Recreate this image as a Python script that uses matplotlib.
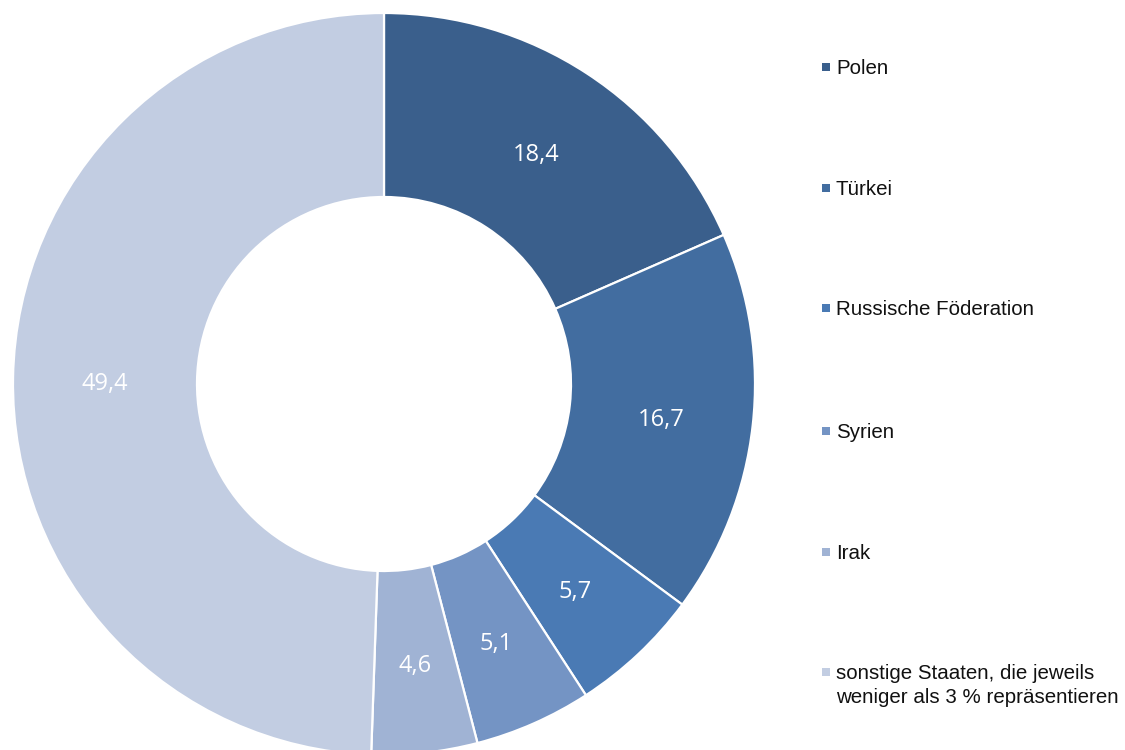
import matplotlib
matplotlib.use("Agg")
import matplotlib.pyplot as plt
import matplotlib.transforms as mtransforms
import numpy as np
from matplotlib.patches import Rectangle

labels = ["Polen", "Türkei", "Russische Föderation", "Syrien", "Irak",
          "sonstige Staaten, die jeweils\nweniger als 3 % repräsentieren"]
values = [18.4, 16.7, 5.7, 5.1, 4.6, 49.4]
value_text = ["18,4", "16,7", "5,7", "5,1", "4,6", "49,4"]
colors = ["#3A5F8C", "#426DA0", "#4A7AB4", "#7494C4", "#A0B3D4", "#C2CDE2"]

W, H = 1125, 750
fig = plt.figure(figsize=(W / 100, H / 100), dpi=100)

cx, cy, R, r = 384, 384, 371, 187
ax = fig.add_axes([(cx - R) / W, (H - cy - R) / H, 2 * R / W, 2 * R / H])

width = (R - r) / R
wedges, _ = ax.pie(values, colors=colors, startangle=90, counterclock=False,
                   radius=1, wedgeprops=dict(width=width, edgecolor="white", linewidth=1.6))
ax.set_xlim(-1, 1)
ax.set_ylim(-1, 1)
ax.set_aspect("equal")
ax.axis("off")

shift = mtransforms.ScaledTranslation(0, -4.5 / 100, fig.dpi_scale_trans)
mid_r = 1 - width / 2
for w, t in zip(wedges, value_text):
    ang = np.deg2rad((w.theta1 + w.theta2) / 2)
    ax.text(mid_r * np.cos(ang), mid_r * np.sin(ang), t, ha="center", va="center",
            color="white", fontsize=17, family=["Open Sans", "DejaVu Sans"],
            transform=ax.transData + shift)

# legend
ys = [67, 188, 308, 431, 552, 672]
for lab, col, y in zip(labels, colors, ys):
    fig.patches.append(Rectangle((822 / W, (H - y - 4) / H), 8 / W, 8 / H,
                                 transform=fig.transFigure, facecolor=col, edgecolor="none"))
    for i, line in enumerate(lab.split("\n")):
        fig.text(836 / W, (H - y - 1.5 - 24 * i) / H, line, ha="left", va="center",
                 fontsize=14.8, family=["Liberation Sans", "DejaVu Sans"], color="#111111")

fig.savefig("out.png", dpi=100, facecolor="white")
